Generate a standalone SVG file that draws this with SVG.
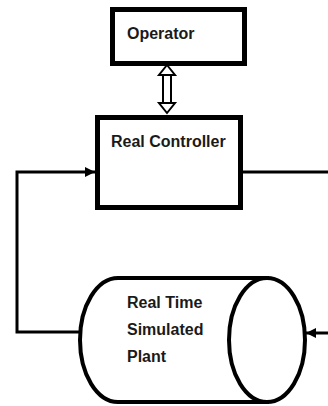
<svg xmlns="http://www.w3.org/2000/svg" width="328" height="406" viewBox="0 0 328 406">
<defs>
<style>
.box{fill:#fff;stroke:#000;stroke-width:5}
.cyl{fill:#fff;stroke:#000;stroke-width:4}
.lbl{font-family:"Liberation Sans",Arial,sans-serif;font-weight:bold;font-size:16px;fill:#1a1a1a}
.ln{fill:none;stroke:#000;stroke-width:3}
.dl{fill:none;stroke:#000;stroke-width:2}
</style>
<marker id="ah" viewBox="0 0 10 10" refX="10" refY="5" markerWidth="10" markerHeight="10" markerUnits="userSpaceOnUse" orient="auto">
<path d="M0,0 L10,5 L0,10 Z" fill="#000"/>
</marker>
</defs>
<rect width="328" height="406" fill="#fff"/>
<g id="connectors">
<!-- double arrow -->
<path class="dl" d="M163,72 V106 M171,72 V106"/>
<path d="M167,65 L175,75 L159,75 Z" fill="#fff" stroke="#000" stroke-width="2" stroke-linejoin="miter"/>
<path d="M167,113 L175,103 L159,103 Z" fill="#fff" stroke="#000" stroke-width="2" stroke-linejoin="miter"/>
<!-- feedback loop from plant to controller -->
<path class="ln" d="M80,332 H17 V172 H95" marker-end="url(#ah)"/>
<!-- controller output to right edge -->
<path class="ln" d="M243,172 H328"/>
<!-- input to plant from right -->
<path class="ln" d="M328,333 H306" marker-end="url(#ah)"/>
</g>
<g id="operator">
<rect class="box" x="112.5" y="9.5" width="132" height="54"/>
<text class="lbl" x="127" y="39">Operator</text>
</g>
<g id="real-controller">
<rect class="box" x="97.5" y="117.5" width="143" height="90"/>
<text class="lbl" x="111" y="147">Real Controller</text>
</g>
<g id="plant">
<path class="cyl" d="M118,278 H267 V402 H118 A38,62 0 0 1 118,278 Z"/>
<ellipse class="cyl" cx="267" cy="340" rx="38" ry="62"/>
<text class="lbl" x="127" y="308">Real Time</text>
<text class="lbl" x="127" y="335">Simulated</text>
<text class="lbl" x="127" y="362">Plant</text>
</g>
</svg>
